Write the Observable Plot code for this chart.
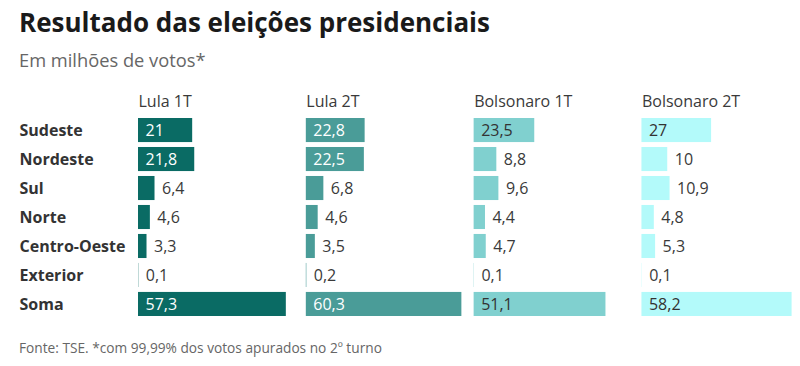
<!DOCTYPE html>
<html>
<head>
<meta charset="utf-8">
<script src="https://cdn.jsdelivr.net/npm/d3@7"></script>
<script src="https://cdn.jsdelivr.net/npm/@observablehq/plot@0.6"></script>
<style>
  html, body { margin: 0; padding: 0; background: #fff; }
  #wrap { position: relative; width: 800px; height: 366px; font-family: "Open Sans", sans-serif; overflow: hidden; }
  #title { position: absolute; left: 19px; top: 5px; font-size: 26px; line-height: 34px; font-weight: 700; color: #1a1a1a; white-space: nowrap; }
  #subtitle { position: absolute; left: 19px; top: 48px; font-size: 18.3px; line-height: 24px; color: #666; white-space: nowrap; }
  #chart { position: absolute; left: 0; top: 80px; }
  #caption { position: absolute; left: 19px; top: 339px; font-size: 13.7px; line-height: 18px; color: #666; white-space: nowrap; }
</style>
</head>
<body>
<div id="wrap">
  <div id="title">Resultado das eleições presidenciais</div>
  <div id="subtitle">Em milhões de votos*</div>
  <div id="chart"></div>
  <div id="caption">Fonte: TSE. *com 99,99% dos votos apurados no 2º turno</div>
</div>
<script>
const regions = ["Sudeste", "Nordeste", "Sul", "Norte", "Centro-Oeste", "Exterior", "Soma"];
const series = ["Lula 1T", "Lula 2T", "Bolsonaro 1T", "Bolsonaro 2T"];
const lula1T = [21, 21.8, 6.4, 4.6, 3.3, 0.1, 57.3];
const lula2T = [22.8, 22.5, 6.8, 4.6, 3.5, 0.2, 60.3];
const bolsonaro1T = [23.5, 8.8, 9.6, 4.4, 4.7, 0.1, 51.1];
const bolsonaro2T = [27, 10, 10.9, 4.8, 5.3, 0.1, 58.2];
const colors = ["#0a6b64", "#4a9c98", "#80d0cf", "#b3fafa"];
const insideText = ["#ffffff", "#ffffff", "#333333", "#333333"];

const valuesBySeries = [lula1T, lula2T, bolsonaro1T, bolsonaro2T];
const data = [];
series.forEach((s, i) => {
  regions.forEach((r, j) => {
    data.push({series: s, region: r, value: valuesBySeries[i][j], inside: valuesBySeries[i][j] >= 20, si: i});
  });
});
const fmt = v => String(v).replace(".", ",");

const chart = Plot.plot({
  width: 800,
  height: 240,
  marginLeft: 138,
  marginRight: 3,
  marginTop: 38,
  marginBottom: 4,
  style: {fontFamily: "Open Sans, sans-serif", background: "transparent"},
  fx: {domain: series, paddingInner: 0.073, paddingOuter: 0, round: false, axis: null},
  x: {domain: [0, 60.3], axis: null},
  y: {domain: regions, paddingInner: 0.17, paddingOuter: 0, round: false, axis: null},
  color: {domain: series, range: colors},
  marks: [
    Plot.barX(data, {fx: "series", y: "region", x: "value", fill: "series"}),
    Plot.text(data.filter(d => d.inside), {
      fx: "series", y: "region", x: 0, text: d => fmt(d.value),
      textAnchor: "start", dx: 7, fontSize: 16,
      fill: d => insideText[d.si]
    }),
    Plot.text(data.filter(d => !d.inside), {
      fx: "series", y: "region", x: "value", text: d => fmt(d.value),
      textAnchor: "start", dx: 7, fontSize: 16, fill: "#3a3a3a"
    }),
    Plot.text(series, {
      fx: d => d, text: d => d, frameAnchor: "top-left", lineAnchor: "bottom",
      textAnchor: "start", dy: -12, fontSize: 16, fill: "#3a3a3a"
    }),
    Plot.axisY({
      tickSize: 0, tickPadding: 0, textAnchor: "start", dx: -119,
      fontSize: 16, fontWeight: "bold", fill: "#333", label: null
    })
  ]
});
document.getElementById("chart").appendChild(chart);
</script>
</body>
</html>
